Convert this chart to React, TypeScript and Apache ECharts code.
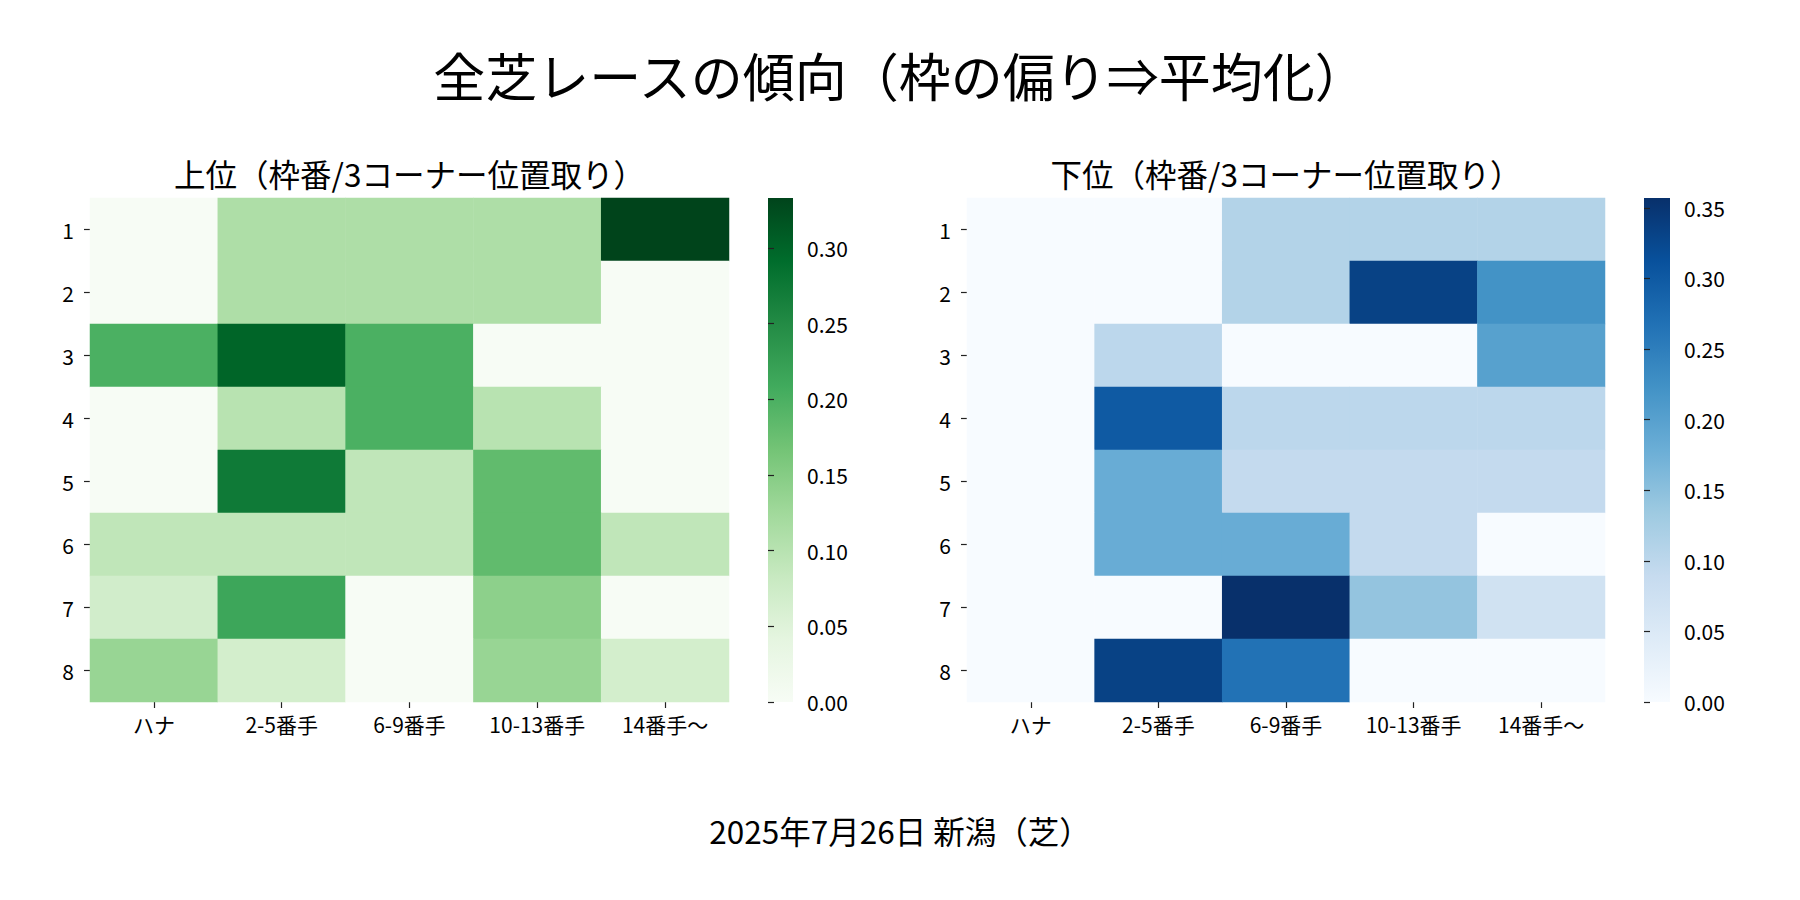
import React, { useEffect, useRef } from "react";
import * as echarts from "echarts";

const rowLabels = ["1", "2", "3", "4", "5", "6", "7", "8"];
const colLabels = ["ハナ", "2-5番手", "6-9番手", "10-13番手", "14番手〜"];

// 上位（枠番 × 3コーナー位置取り）
const upperRates = [
  [0, 0.111, 0.111, 0.111, 0.333],
  [0, 0.111, 0.111, 0.111, 0],
  [0.2, 0.3, 0.2, 0, 0],
  [0, 0.1, 0.2, 0.1, 0],
  [0, 0.273, 0.091, 0.182, 0],
  [0.091, 0.091, 0.091, 0.182, 0.091],
  [0.069, 0.214, 0, 0.143, 0],
  [0.133, 0.067, 0, 0.133, 0.067],
];

// 下位（枠番 × 3コーナー位置取り）
const lowerRates = [
  [0, 0, 0.111, 0.111, 0.111],
  [0, 0, 0.111, 0.333, 0.222],
  [0, 0.1, 0, 0, 0.2],
  [0, 0.3, 0.1, 0.1, 0.1],
  [0, 0.182, 0.091, 0.091, 0.091],
  [0, 0.182, 0.182, 0.091, 0],
  [0, 0, 0.357, 0.143, 0.071],
  [0, 0.333, 0.267, 0, 0],
];

const upperTicks = [0, 0.05, 0.1, 0.15, 0.2, 0.25, 0.3];
const lowerTicks = [0, 0.05, 0.1, 0.15, 0.2, 0.25, 0.3, 0.35];

const greens = ["#f7fcf5", "#e5f5e0", "#c7e9c0", "#a1d99b", "#74c476", "#41ab5d", "#238b45", "#006d2c", "#00441b"];
const blues = ["#f7fbff", "#deebf7", "#c6dbef", "#9ecae1", "#6baed6", "#4292c6", "#2171b5", "#08519c", "#08306b"];

const mainTitle = "全芝レースの傾向（枠の偏り⇒平均化）";
const upperTitle = "上位（枠番/3コーナー位置取り）";
const lowerTitle = "下位（枠番/3コーナー位置取り）";
const footer = "2025年7月26日 新潟（芝）";

const FONT = "'Noto Sans CJK JP', sans-serif";

function toCells(m: number[][]) {
  const out: number[][] = [];
  m.forEach((row, r) => row.forEach((v, c) => out.push([c, r, v])));
  return out;
}

export default function App() {
  const ref = useRef<HTMLDivElement>(null);
  useEffect(() => {
    if (!ref.current) return;
    const chart = echarts.init(ref.current, null, { renderer: "svg" });
    const upperMax = Math.max(...upperRates.flat());
    const lowerMax = Math.max(...lowerRates.flat());

    const heatTop = 198;
    const heatH = 504;
    const L = { left: 90, width: 639 };
    const R = { left: 967, width: 638 };
    const LC = { left: 768, width: 25 };
    const RC = { left: 1644, width: 26 };
    const tickFont = 21;

    const catX = (gi: number) => ({
      type: "category",
      gridIndex: gi,
      data: colLabels,
      axisLine: { show: false },
      axisTick: { show: true, alignWithLabel: true, length: 6, lineStyle: { color: "#222", width: 1.2 } },
      axisLabel: { color: "#000", fontSize: tickFont, fontFamily: FONT, margin: 11 },
      splitLine: { show: false },
    });
    const catY = (gi: number) => ({
      type: "category",
      gridIndex: gi,
      data: rowLabels,
      inverse: true,
      axisLine: { show: false },
      axisTick: { show: true, alignWithLabel: true, length: 6, lineStyle: { color: "#222", width: 1.2 } },
      axisLabel: { color: "#000", fontSize: tickFont, fontFamily: FONT, margin: 16 },
      splitLine: { show: false },
    });
    const cbX = (gi: number) => ({ type: "value", gridIndex: gi, show: false, min: 0, max: 1 });
    const cbY = (gi: number, max: number, ticks: number[]) => ({
      type: "value",
      gridIndex: gi,
      min: 0,
      max,
      position: "right",
      axisLine: { show: false },
      splitLine: { show: false },
      axisTick: { show: true, length: 6, customValues: ticks, lineStyle: { color: "#222", width: 1.2 } },
      axisLabel: {
        customValues: ticks,
        color: "#000",
        fontSize: tickFont,
        fontFamily: FONT,
        margin: 14,
        formatter: (v: number) => v.toFixed(2),
      },
    });

    const gradient = (colors: string[]) => ({
      type: "linear",
      x: 0,
      y: 1,
      x2: 0,
      y2: 0,
      colorStops: colors.map((c, i) => ({ offset: i / (colors.length - 1), color: c })),
    });

    chart.setOption({
      animation: false,
      backgroundColor: "#ffffff",
      grid: [
        { left: L.left, top: heatTop, width: L.width, height: heatH },
        { left: R.left, top: heatTop, width: R.width, height: heatH },
        { left: LC.left, top: heatTop, width: LC.width, height: heatH },
        { left: RC.left, top: heatTop, width: RC.width, height: heatH },
      ],
      xAxis: [catX(0), catX(1), cbX(2), cbX(3)],
      yAxis: [catY(0), catY(1), cbY(2, upperMax, upperTicks), cbY(3, lowerMax, lowerTicks)],
      visualMap: [
        { type: "continuous", show: false, min: 0, max: upperMax, seriesIndex: 0, inRange: { color: greens } },
        { type: "continuous", show: false, min: 0, max: lowerMax, seriesIndex: 1, inRange: { color: blues } },
      ],
      series: [
        {
          type: "heatmap",
          xAxisIndex: 0,
          yAxisIndex: 0,
          data: toCells(upperRates),
          silent: true,
          itemStyle: { borderWidth: 0 },
          emphasis: { disabled: true },
        },
        {
          type: "heatmap",
          xAxisIndex: 1,
          yAxisIndex: 1,
          data: toCells(lowerRates),
          silent: true,
          itemStyle: { borderWidth: 0 },
          emphasis: { disabled: true },
        },
      ],
      graphic: [
        {
          type: "rect",
          shape: { x: LC.left, y: heatTop, width: LC.width, height: heatH },
          style: { fill: gradient(greens) },
          silent: true,
        },
        {
          type: "rect",
          shape: { x: RC.left, y: heatTop, width: RC.width, height: heatH },
          style: { fill: gradient(blues) },
          silent: true,
        },
        {
          type: "text",
          x: 900,
          y: 74,
          style: { text: mainTitle, fontSize: 52, fontFamily: FONT, fill: "#000", align: "center", verticalAlign: "middle" },
        },
        {
          type: "text",
          x: L.left + L.width / 2,
          y: 173,
          style: { text: upperTitle, fontSize: 31.5, fontFamily: FONT, fill: "#000", align: "center", verticalAlign: "middle" },
        },
        {
          type: "text",
          x: R.left + R.width / 2,
          y: 173,
          style: { text: lowerTitle, fontSize: 31.5, fontFamily: FONT, fill: "#000", align: "center", verticalAlign: "middle" },
        },
        {
          type: "text",
          x: 900,
          y: 830,
          style: { text: footer, fontSize: 31.5, fontFamily: FONT, fill: "#000", align: "center", verticalAlign: "middle" },
        },
      ],
    });
    return () => chart.dispose();
  }, []);
  return (
    <div
      ref={ref}
      style={{ position: "fixed", left: 0, top: 0, width: 1800, height: 900, background: "#fff" }}
    />
  );
}
